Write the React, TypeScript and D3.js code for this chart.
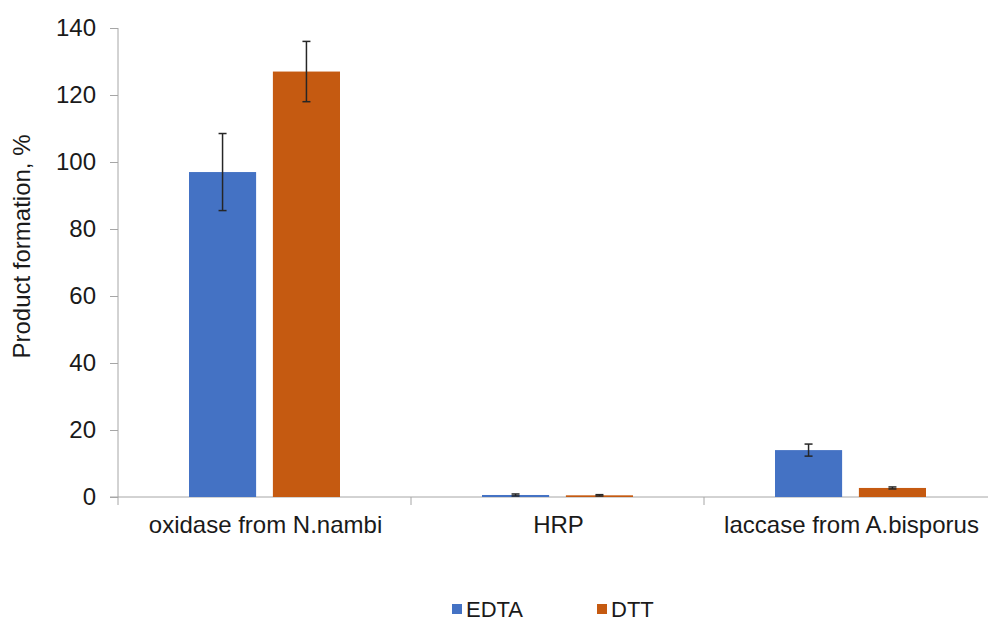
import React from "react";
import * as d3 from "d3";

const categories = ["oxidase from N.nambi", "HRP", "laccase from A.bisporus"];
const seriesNames = ["EDTA", "DTT"];
const seriesColors = ["#4472C4", "#C55A11"];
const edtaValues = [97, 0.6, 14];
const edtaErrors = [11.5, 0.3, 1.8];
const dttValues = [127, 0.5, 2.7];
const dttErrors = [9, 0.2, 0.3];
const yTicks = [0, 20, 40, 60, 80, 100, 120, 140];

const width = 988;
const height = 621;
const margin = { left: 118, top: 28, right: -9, bottom: 124 };
const font = "'Liberation Sans', Arial, sans-serif";
const fontSize = 24;

const App = () => {
  const svgRef = React.useRef(null);

  React.useEffect(() => {
    const series = [
      { name: seriesNames[0], color: seriesColors[0], values: edtaValues, errors: edtaErrors },
      { name: seriesNames[1], color: seriesColors[1], values: dttValues, errors: dttErrors },
    ];
    const x0 = d3
      .scaleBand()
      .domain(categories)
      .range([margin.left, width - margin.right]);
    const x1 = d3
      .scaleBand()
      .domain(seriesNames)
      .range([71, x0.bandwidth() - 71])
      .paddingInner(0.2);
    const y = d3
      .scaleLinear()
      .domain([0, 140])
      .range([height - margin.bottom, margin.top]);

    const svgEl = d3.select(svgRef.current);
    svgEl.selectAll("*").remove();

    // Y axis
    const yAxisGroup = svgEl
      .append("g")
      .attr("transform", `translate(${margin.left},0)`)
      .call(d3.axisLeft(y).tickValues(yTicks).tickSize(8).tickPadding(14));
    yAxisGroup.selectAll("line, path").attr("stroke", "#a6a6a6");
    yAxisGroup.select(".domain").attr("d", `M0,${y(140)}V${y(0)}`);
    yAxisGroup
      .selectAll("text")
      .attr("fill", "#1a1a1a")
      .attr("font-family", font)
      .attr("font-size", fontSize);

    // X axis with category separators
    const xg = svgEl.append("g");
    xg.append("line")
      .attr("x1", margin.left - 8)
      .attr("x2", width)
      .attr("y1", y(0))
      .attr("y2", y(0))
      .attr("stroke", "#a6a6a6");
    xg.selectAll(".sep")
      .data(categories.concat(["end"]))
      .enter()
      .append("line")
      .attr("x1", (d, i) => (i < categories.length ? x0(d) : x0.range()[1]))
      .attr("x2", (d, i) => (i < categories.length ? x0(d) : x0.range()[1]))
      .attr("y1", y(0))
      .attr("y2", y(0) + 8)
      .attr("stroke", "#a6a6a6");
    xg.selectAll(".cat")
      .data(categories)
      .enter()
      .append("text")
      .attr("x", (d) => x0(d) + x0.bandwidth() / 2 + 1)
      .attr("y", y(0) + 36)
      .attr("text-anchor", "middle")
      .attr("font-family", font)
      .attr("font-size", fontSize)
      .attr("fill", "#1a1a1a")
      .text((d) => d);

    // Bars
    const groups = svgEl
      .selectAll(".grp")
      .data(series)
      .enter()
      .append("g");
    groups
      .selectAll("rect")
      .data((s) => s.values.map((v, i) => ({ s, v, i })))
      .enter()
      .append("rect")
      .attr("x", (d) => x0(categories[d.i]) + x1(d.s.name))
      .attr("width", x1.bandwidth())
      .attr("y", (d) => y(d.v))
      .attr("height", (d) => y(0) - y(d.v))
      .attr("fill", (d) => d.s.color);

    // Error bars
    const err = groups
      .selectAll(".err")
      .data((s) => s.values.map((v, i) => ({ s, v, e: s.errors[i], i })))
      .enter()
      .append("g")
      .attr("stroke", "#262626")
      .attr("stroke-width", 1.5);
    const cx = (d) => x0(categories[d.i]) + x1(d.s.name) + x1.bandwidth() / 2;
    err.append("line")
      .attr("x1", cx)
      .attr("x2", cx)
      .attr("y1", (d) => y(d.v + d.e))
      .attr("y2", (d) => y(d.v - d.e));
    [1, -1].forEach((sign) => {
      err.append("line")
        .attr("x1", (d) => cx(d) - 4)
        .attr("x2", (d) => cx(d) + 4)
        .attr("y1", (d) => y(d.v + sign * d.e))
        .attr("y2", (d) => y(d.v + sign * d.e));
    });

    // Y axis title
    svgEl
      .append("text")
      .attr("transform", `translate(30,${(y(0) + y(140)) / 2 - 16}) rotate(-90)`)
      .attr("text-anchor", "middle")
      .attr("font-family", font)
      .attr("font-size", fontSize)
      .attr("fill", "#1a1a1a")
      .text("Product formation, %");

    // Legend
    const legend = svgEl
      .selectAll(".leg")
      .data(series)
      .enter()
      .append("g")
      .attr("transform", (d, i) => `translate(${452 + i * 145},604)`);
    legend
      .append("rect")
      .attr("width", 10)
      .attr("height", 10)
      .attr("fill", (d) => d.color);
    legend
      .append("text")
      .attr("x", 14)
      .attr("y", 13)
      .attr("font-family", font)
      .attr("font-size", 22)
      .attr("fill", "#1a1a1a")
      .text((d) => d.name);
  }, []);

  return (
    <svg
      ref={svgRef}
      width={width}
      height={height}
      style={{ position: "absolute", left: 0, top: 0, background: "#fff" }}
    />
  );
};

export default App;
